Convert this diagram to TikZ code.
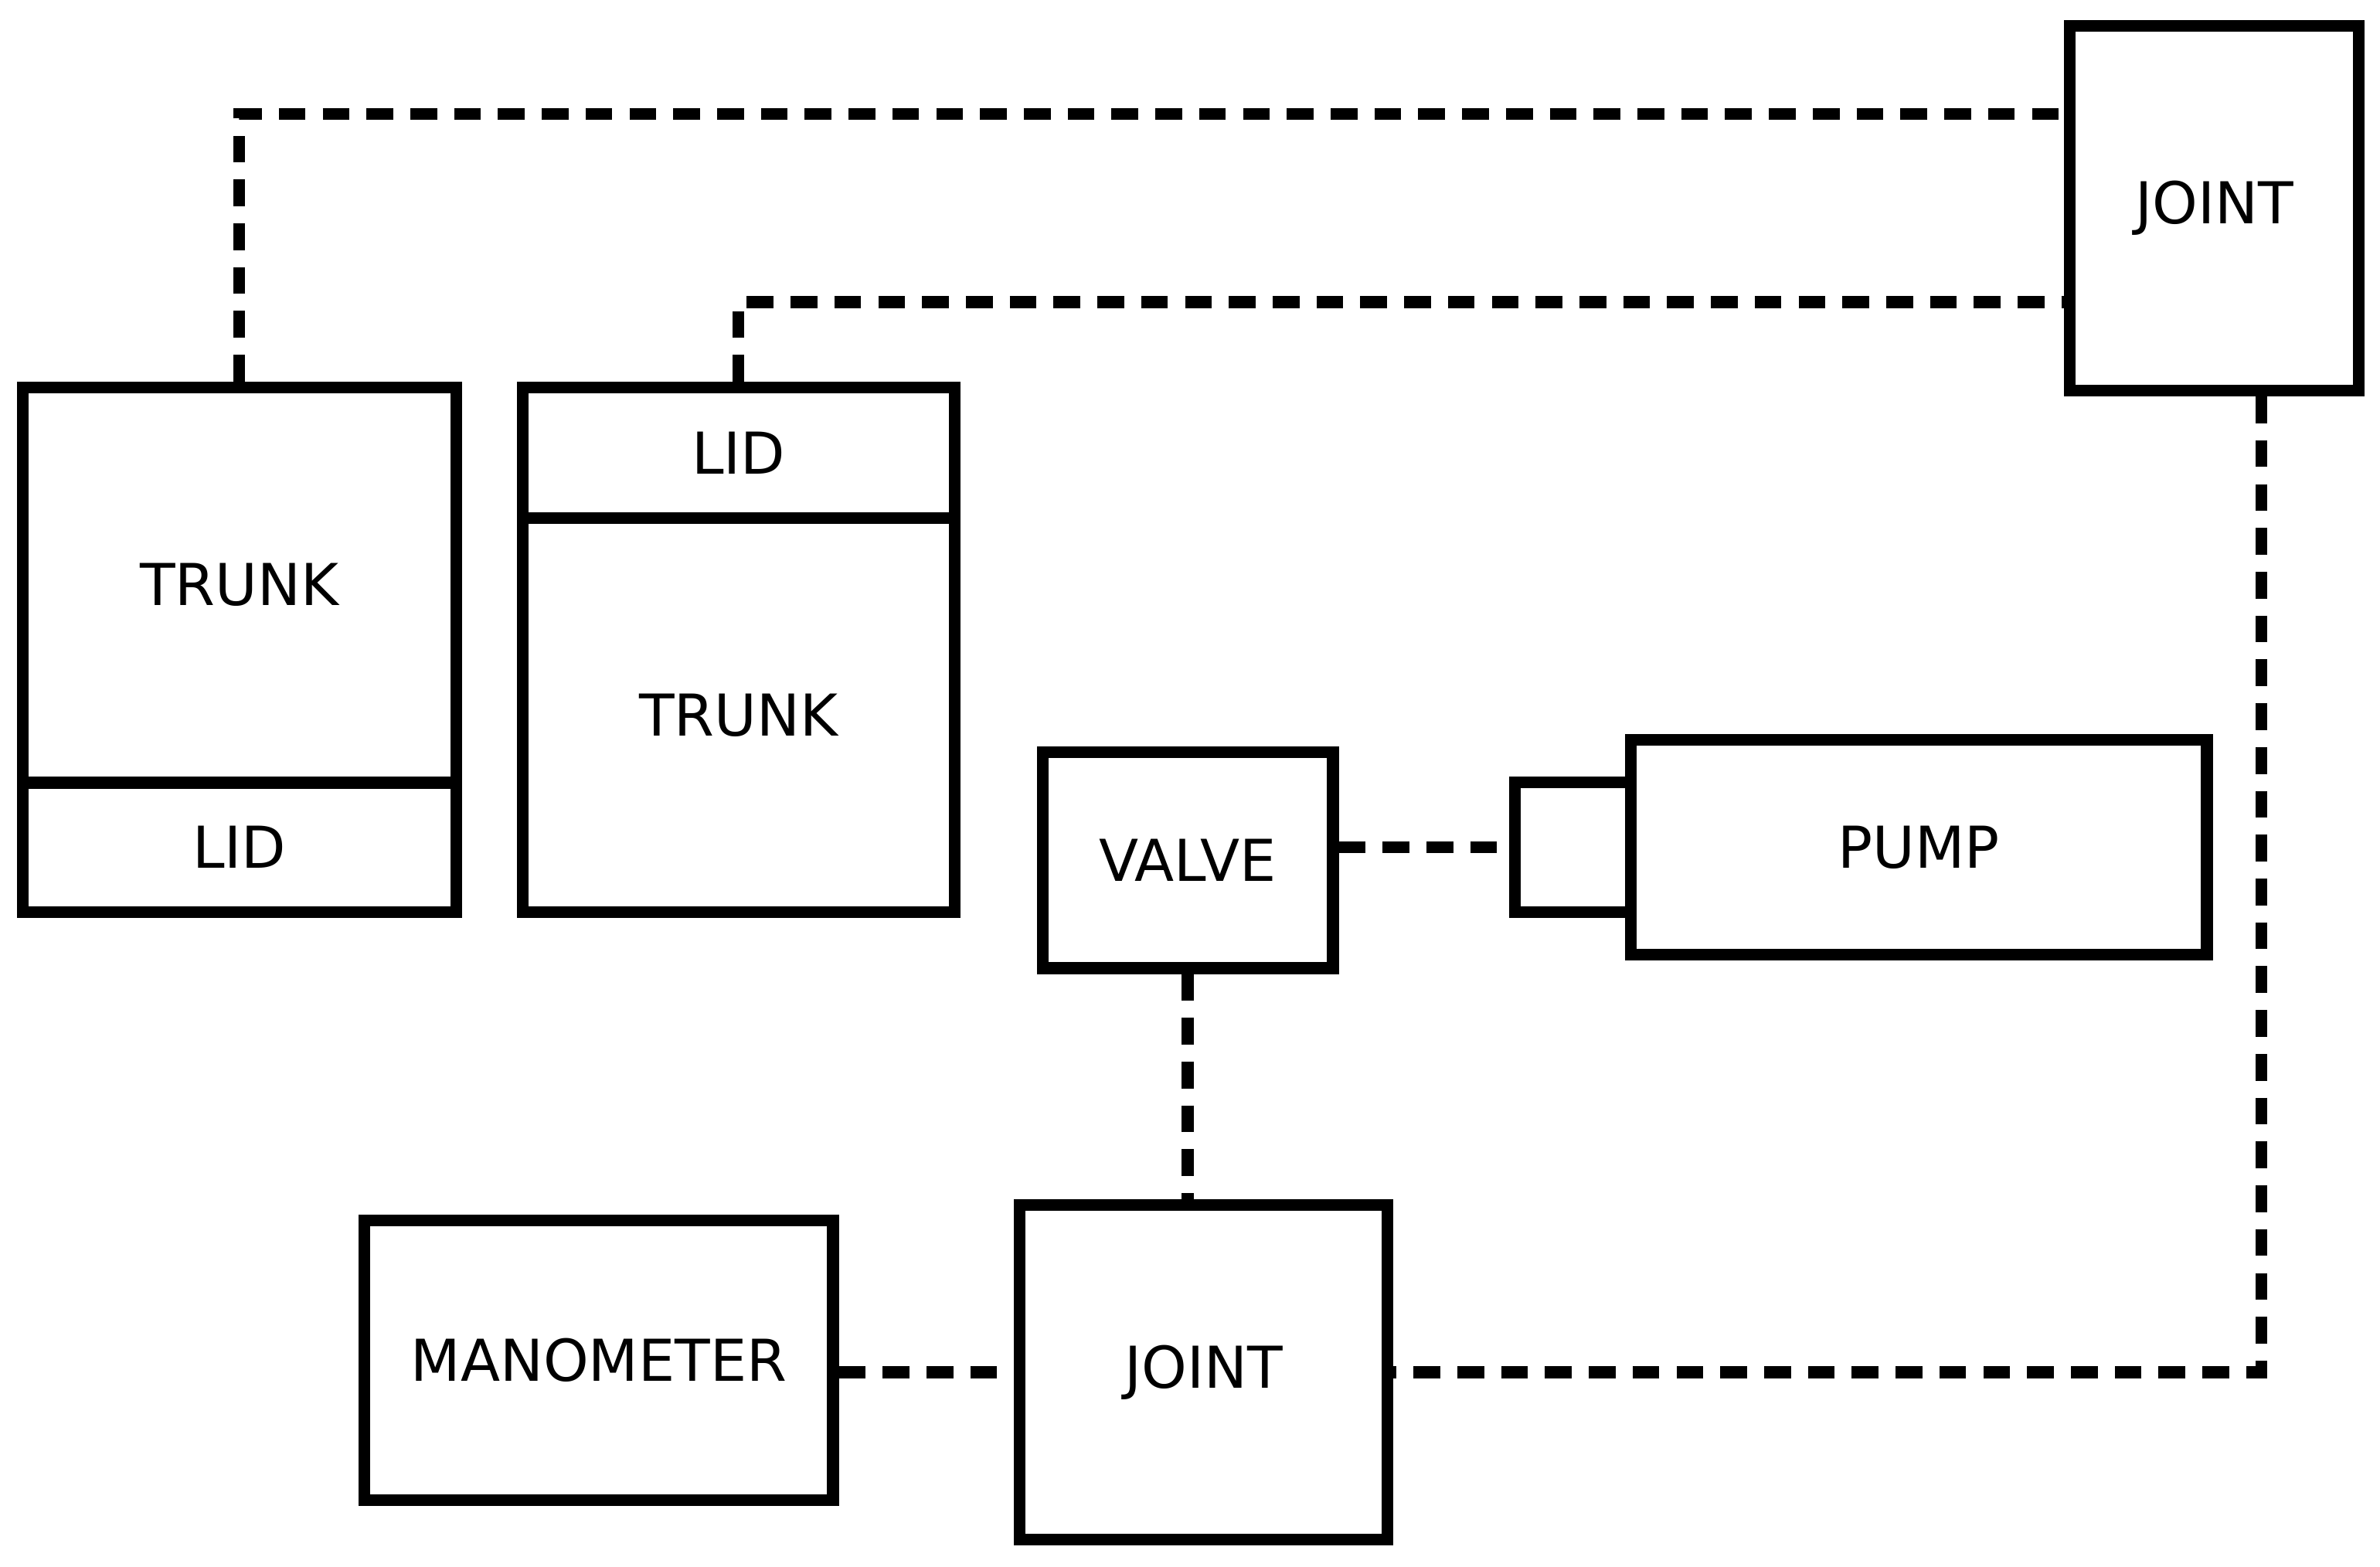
\documentclass[tikz,border=0pt]{standalone}
\usepackage{fontspec}
\setmainfont{DejaVu Sans}
\usetikzlibrary{positioning}
\tikzset{
  box/.style={draw, line width=2.2pt, inner sep=0pt, font=\fontsize{10.8}{13}\selectfont},
  pipe/.style={line width=2.2pt, dash pattern=on 5pt off 3.2pt}
}
\begin{document}
\begin{tikzpicture}[x=0.01cm, y=-0.01cm]
    \useasboundingbox (0,0) rectangle (1566,1031);

    % left trunk, lid underneath
    \node[box, minimum width=2.85cm, minimum height=2.6cm] (trunkA) at (157.5,385) {TRUNK};
    \node[box, minimum width=2.85cm, minimum height=0.85cm] (lidA) at (157.5,557.5) {LID};

    % second trunk, lid on top
    \node[box, minimum width=2.84cm, minimum height=0.86cm] (lidB) at (486,298) {LID};
    \node[box, minimum width=2.84cm, minimum height=2.59cm] (trunkB) at (486,470.5) {TRUNK};

    \node[box, minimum width=1.9cm, minimum height=2.4cm] (jointT) at (1457,137) {JOINT};
    \node[box, minimum width=1.91cm, minimum height=1.42cm] (valve) at (781.5,566) {VALVE};
    \node[box, minimum width=0.76cm, minimum height=0.85cm] (inlet) at (1035,557.5) {};
    \node[box, minimum width=3.79cm, minimum height=1.41cm] (pump) at (1262.5,557.5) {PUMP};
    \node[box, minimum width=3.08cm, minimum height=1.84cm] (mano) at (394,895) {MANOMETER};
    \node[box, minimum width=2.42cm, minimum height=2.2cm] (jointB) at (792,903) {JOINT};

    % connections
    \draw[pipe] (trunkA.north) |- (jointT.148);
    \draw[pipe] (lidB.north) |- (jointT.212);
    \draw[pipe] (jointT.284) |- (jointB.east);
    \draw[pipe] (valve.south) -- (valve.south |- jointB.north);
    \draw[pipe] (mano.east |- jointB.west) -- (jointB.west);
    \draw[pipe] (valve.east |- inlet.west) -- (inlet.west);
\end{tikzpicture}
\end{document}
